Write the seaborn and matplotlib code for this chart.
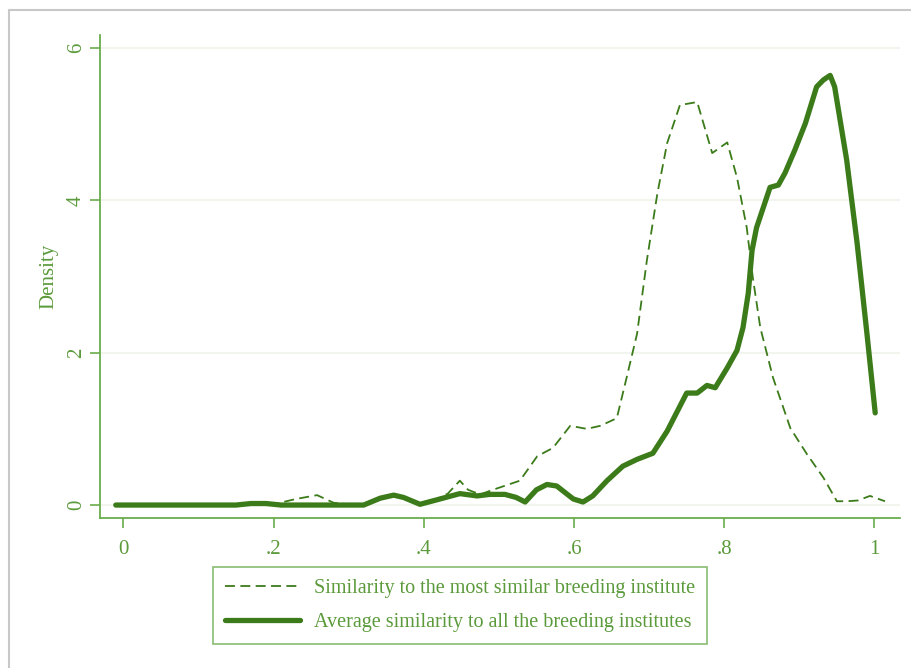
import pandas as pd
import seaborn as sns
import matplotlib.pyplot as plt
import matplotlib.lines as mlines

# similarity to the most similar breeding institute (dashed)
x_most = [-0.01, 0.05, 0.10, 0.15, 0.20, 0.23, 0.258, 0.28, 0.30, 0.32, 0.342, 0.36, 0.375, 0.395,
          0.418, 0.432, 0.448, 0.459, 0.475, 0.498, 0.528, 0.551, 0.572, 0.595, 0.617, 0.635, 0.657,
          0.670, 0.684, 0.697, 0.711, 0.724, 0.741, 0.764, 0.784, 0.804, 0.817, 0.830, 0.838, 0.848,
          0.865, 0.888, 0.910, 0.932, 0.950, 0.963, 0.978, 0.994, 1.014]
y_most = [0.0, 0.0, 0.0, 0.0, 0.01, 0.08, 0.13, 0.03, 0.01, 0.01, 0.09, 0.13, 0.10, 0.01,
          0.08, 0.15, 0.32, 0.20, 0.14, 0.22, 0.32, 0.64, 0.75, 1.04, 1.00, 1.04, 1.14,
          1.67, 2.25, 3.21, 4.09, 4.75, 5.25, 5.29, 4.62, 4.76, 4.30, 3.64, 2.99, 2.33,
          1.67, 1.01, 0.67, 0.36, 0.05, 0.05, 0.06, 0.12, 0.05]

# average similarity to all the breeding institutes (solid)
x_avg = [-0.01, 0.05, 0.10, 0.15, 0.17, 0.19, 0.21, 0.25, 0.30, 0.32, 0.342, 0.36, 0.373, 0.395,
         0.418, 0.448, 0.471, 0.488, 0.508, 0.523, 0.535, 0.550, 0.564, 0.577, 0.599, 0.612,
         0.625, 0.644, 0.665, 0.684, 0.705, 0.724, 0.750, 0.764, 0.777, 0.788, 0.804, 0.817,
         0.825, 0.832, 0.837, 0.843, 0.861, 0.872, 0.881, 0.894, 0.908, 0.923, 0.932, 0.941,
         0.947, 0.963, 0.977, 0.990, 1.001]
y_avg = [0.0, 0.0, 0.0, 0.0, 0.02, 0.02, 0.0, 0.0, 0.0, 0.0, 0.09, 0.13, 0.10, 0.01,
         0.07, 0.15, 0.12, 0.14, 0.14, 0.10, 0.04, 0.20, 0.27, 0.25, 0.08, 0.04,
         0.12, 0.32, 0.51, 0.60, 0.68, 0.97, 1.47, 1.47, 1.57, 1.54, 1.80, 2.03,
         2.33, 2.78, 3.34, 3.64, 4.17, 4.20, 4.36, 4.66, 5.01, 5.49, 5.58, 5.64,
         5.49, 4.53, 3.43, 2.25, 1.21]

x_ticks = [0, 0.2, 0.4, 0.6, 0.8, 1]
x_ticklabels = ['0', '.2', '.4', '.6', '.8', '1']
y_ticks = [0, 2, 4, 6]
label_most = 'Similarity to the most similar breeding institute'
label_avg = 'Average similarity to all the breeding institutes'

line_c = '#3c7b1a'
text_c = '#5b9a3b'
axis_c = '#6aad4d'
dash = (0, (5.5, 3))

sns.set_style('white')
plt.rcParams['font.family'] = ['Liberation Serif', 'DejaVu Serif']

df_most = pd.DataFrame({'x': x_most, 'y': y_most})
df_avg = pd.DataFrame({'x': x_avg, 'y': y_avg})

fig = plt.figure(figsize=(9.12, 6.68), dpi=100)
ax = fig.add_axes([100/912, 1-518/668, 800/912, 483/668])

for yt in y_ticks:
    ax.axhline(yt, color='#f1f5ee', lw=1.5, zorder=0)

sns.lineplot(data=df_most, x='x', y='y', ax=ax, color=line_c, lw=1.3,
             linestyle=dash, sort=False)
sns.lineplot(data=df_avg, x='x', y='y', ax=ax, color=line_c, lw=3.8, sort=False)

ax.set_xlim(-0.031, 1.034)
ax.set_ylim(-0.17, 6.17)
ax.set_xticks(x_ticks)
ax.set_xticklabels(x_ticklabels)
ax.set_yticks(y_ticks)
ax.set_yticklabels([str(v) for v in y_ticks], rotation=90, va='center')
ax.tick_params(colors=axis_c, labelcolor=text_c, labelsize=15, length=7, width=1.2,
               direction='out', bottom=True, left=True)
ax.tick_params(axis='x', pad=9)
ax.tick_params(axis='y', pad=3)
for s in ['top', 'right']:
    ax.spines[s].set_visible(False)
for s in ['left', 'bottom']:
    ax.spines[s].set_color(axis_c)
    ax.spines[s].set_linewidth(1.3)
ax.set_xlabel('')
ax.set_ylabel('Density', color=text_c, fontsize=15, labelpad=6)

h1 = mlines.Line2D([], [], color=line_c, lw=1.3, linestyle=dash, label=label_most)
h2 = mlines.Line2D([], [], color=line_c, lw=3.8, label=label_avg)
leg = fig.legend(handles=[h1, h2], loc='upper center', bbox_to_anchor=(460/912, 1-567/668),
                 frameon=True, fancybox=False, fontsize=14.5, handlelength=3.7,
                 borderpad=0.6, labelspacing=0.75, handletextpad=0.7, borderaxespad=0)
leg.get_frame().set_edgecolor(axis_c)
leg.get_frame().set_linewidth(1.2)
for t in leg.get_texts():
    t.set_color(text_c)

# screenshot frame on top and left
fig.add_artist(mlines.Line2D([9/912, 1], [1-10/668, 1-10/668], color='#c8c8c8', lw=1.5))
fig.add_artist(mlines.Line2D([9/912, 9/912], [0, 1-10/668], color='#c8c8c8', lw=1.5))

fig.savefig('out.png', dpi=100)
